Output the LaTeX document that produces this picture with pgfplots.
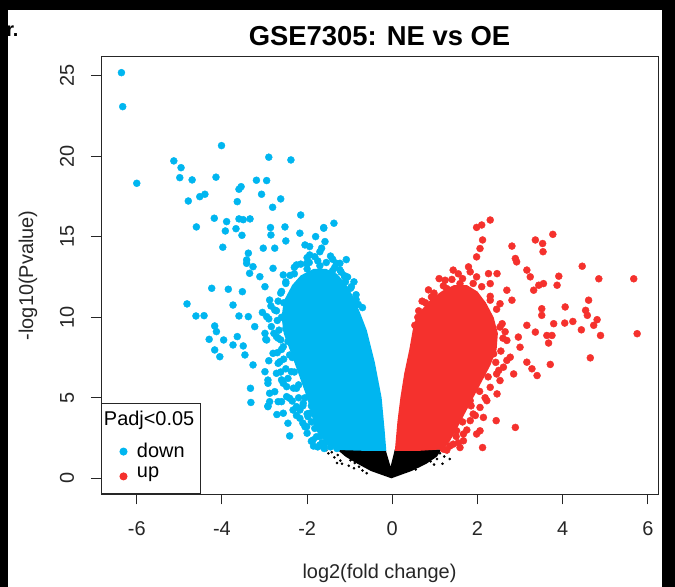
\documentclass[border=0pt]{standalone}
\usepackage{fontspec}
\setmainfont{Liberation Sans}
\usepackage{pgfplots}
\pgfplotsset{compat=1.18}
\definecolor{cblue}{RGB}{0,182,240}
\definecolor{cred}{RGB}{245,49,45}
\begin{document}
\begin{tikzpicture}
\fill[white] (0,0) rectangle (675bp,587bp);
\begin{axis}[
  at={(101bp,92.6bp)}, anchor=south west,
  scale only axis, width=557bp, height=438bp,
  xmin=-6.84, xmax=6.24, ymin=-1.0, ymax=26.2,
  axis on top,
  axis line style={black!85, line width=1bp},
  tick style={black!85, line width=1bp},
  tick align=outside, major tick length=10bp,
  xtick pos=left, ytick pos=left,
  xtick={-6,-4,-2,0,2,4,6}, xticklabels={-6,-4,-2,0,2,4,6},
  ytick={0,5,10,15,20,25}, yticklabels={0,5,10,15,20,25},
  ticklabel style={font=\fontsize{20}{22}\selectfont, text=black!85},
  xticklabel style={anchor=center, yshift=-24bp},
  yticklabel style={xshift=-24bp, rotate=90, anchor=center},
  title={GSE7305: NE vs OE},
  title style={at={(axis description cs:0.5,1.0331)}, anchor=center, font=\bfseries\fontsize{27.5}{30}\selectfont},
  xlabel={log2(fold change)},
  xlabel style={at={(axis description cs:0.5,-0.1795)}, anchor=center, font=\fontsize{20}{22}\selectfont, text=black!85},
  ylabel={-log10(Pvalue)},
  ylabel style={at={(axis description cs:-0.1311,0.5)}, anchor=center, font=\fontsize{20}{22}\selectfont, text=black!85},
  legend style={at={(axis description cs:0,0)}, anchor=south west, draw=black!85, line width=1bp,
    inner xsep=14bp, inner ysep=4.6bp, font=\fontsize{20}{22}\selectfont,
    cells={anchor=base west, inner sep=0bp, text height=15.4bp, text depth=6.6bp}, column sep=8bp, row sep=0bp},
  legend cell align=left,
  legend image code/.code={\draw[mark repeat=2,mark phase=2,#1] plot coordinates {(0bp,-1.5bp) (8bp,-1.5bp) (16bp,-1.5bp)};},
]
\addlegendimage{empty legend}
\addlegendentry[text depth=12.6bp]{\hspace*{-33bp}Padj<0.05\hspace*{-10bp}}
\addlegendimage{only marks, mark=*, mark size=3.5bp, cblue}
\addlegendentry{down}
\addlegendimage{only marks, mark=*, mark size=3.5bp, cred}
\addlegendentry[text depth=9.4bp]{up}

% not significant: dense core
\addplot[fill=black, draw=none, forget plot] coordinates {
(-1.3,1.8) (-1.1,1.35) (-0.85,0.95) (-0.5,0.45) (-0.02,0.0) (0.45,0.45) (0.8,0.9) (1.05,1.35) (1.15,1.8)
(0.06,1.8) (-0.04,0.72) (-0.16,1.8)} -- cycle;
\addplot[only marks, mark=*, mark size=1.1bp, black, forget plot] coordinates {
(-1.42,1.62) (-1.36,1.3) (-1.22,1.1) (-1.1,1.52) (-1.18,0.9) (-0.98,1.12) (-1.02,0.78) (-0.9,0.62)
(-0.78,0.72) (-0.7,0.48) (-0.6,0.32) (-1.3,0.95) (-1.5,1.55) (-0.88,0.95) (-1.28,1.45) (0.62,0.75)
(0.7,0.95) (0.82,1.2) (0.9,1.05) (0.95,1.5) (1.05,1.2) (1.12,1.55) (1.18,0.9) (1.22,1.35) (1.3,1.62)
(0.55,0.55) (0.98,0.85) (-1.55,1.75) (1.35,1.2)};

% down: dense core
\addplot[fill=cblue, draw=none, forget plot] coordinates {
(-0.14,1.7) (-0.18,3.0) (-0.25,5.0) (-0.41,7.2) (-0.6,9.2) (-0.76,10.3) (-0.92,11.3)
(-1.1,12.1) (-1.3,12.7) (-1.55,13.0) (-1.85,13.0) (-2.15,12.6) (-2.35,12.0) (-2.55,11.0) (-2.6,10.0)
(-2.55,9.0) (-2.3,7.2) (-2.0,5.0) (-1.8,3.0) (-1.5,2.0) (-1.2,1.75)
(-0.6,1.7)} -- cycle;
\addplot[only marks, mark=*, mark size=3.5bp, cblue, forget plot] coordinates {
(-6.36,25.19) (-6.33,23.08) (-6.00,18.32) (-4.01,20.66) (-5.13,19.71) (-4.96,19.29) (-4.99,18.67)
(-4.70,18.53) (-4.14,18.70) (-2.90,19.94) (-2.38,19.77) (-3.19,18.51) (-2.95,18.49) (-3.55,18.11)
(-3.60,17.95) (-4.79,17.22) (-4.52,17.49) (-4.40,17.64) (-3.64,17.18) (-3.07,17.64) (-2.62,17.35)
(-2.81,16.83) (-2.15,16.35) (-4.18,16.15) (-3.89,15.94) (-3.60,16.11) (-3.50,16.06) (-3.34,16.11)
(-4.60,15.61) (-3.92,15.36) (-3.67,15.50) (-3.53,15.09) (-3.98,14.35) (-2.86,15.57) (-2.85,15.11)
(-2.52,15.61) (-2.50,14.74) (-3.03,14.29) (-2.76,14.29) (-3.38,13.98) (-3.42,13.35) (-3.35,12.73)
(-1.94,13.87) (-2.05,14.49) (-1.80,15.01) (-1.61,15.57) (-1.37,15.84) (-1.58,14.70) (-1.40,13.60)
(-1.23,13.35) (-1.08,13.58) (-1.12,12.58) (-1.70,14.07) (-2.25,13.25) (-2.56,12.63) (-2.80,13.04)
(-4.24,11.80) (-3.85,11.74) (-3.52,11.59) (-3.74,10.76) (-4.42,10.10) (-3.60,10.08) (-3.38,10.04)
(-4.17,9.46) (-4.13,9.11) (-4.30,8.63) (-3.96,8.59) (-3.64,8.80) (-3.74,8.28) (-3.50,8.22)
(-4.17,7.97) (-4.05,7.55) (-3.46,7.66) (-3.23,9.42) (-2.97,8.63) (-3.27,7.04) (-3.33,5.59)
(-2.99,6.62) (-2.92,5.90) (-2.88,5.28) (-2.92,4.45) (-2.45,3.42) (-2.68,4.76) (-2.56,4.04)
(-2.17,4.24) (-2.01,3.20) (-1.78,2.58) (-3.42,13.56) (-3.27,13.14) (-3.11,12.52) (-2.99,11.90)
(-2.88,11.07) (-2.76,10.45) (-2.95,10.04) (-2.84,9.42) (-2.72,8.80) (-2.80,7.76) (-2.68,7.14)
(-2.60,6.11) (-2.48,5.69) (-2.41,4.97) (-2.25,4.45) (-1.94,4.04) (-2.01,13.35) (-1.82,13.76)
(-1.66,14.29) (-1.31,13.35) (-1.23,12.94) (-1.12,12.52) (-0.96,11.90) (-2.17,15.22) (-1.94,14.39)
(-1.61,15.53) (-3.32,4.71) (-2.41,2.63) (-2.71,3.96) (-2.10,3.43) (-2.92,4.49) (-4.82,10.83)
(-4.61,10.08) (-2.5,12.2) (-2.6,11.6) (-2.55,10.9) (-2.6,10.0) (-2.5,9.3) (-2.45,8.5) (-2.35,7.5)
(-2.3,6.6) (-2.2,5.8) (-2.05,5.0) (-1.9,4.5) (-1.75,3.8) (-1.6,3.1) (-1.5,2.5) (-1.6,2.1)
(-1.45,1.95) (-1.3,1.85) (-1.1,12.2) (-1.4,12.9) (-1.7,13.2) (-2.0,13.0) (-2.3,12.7) (-0.85,11.4)
(-0.7,10.6)
(-2.4,12.6) (-2.3,13.1) (-2.15,13.3) (-1.95,13.4) (-1.75,13.5) (-1.55,13.4) (-1.35,13.1) (-1.2,12.8)
(-1.05,12.5) (-2.5,12.1) (-2.62,11.5) (-2.0,13.7) (-1.45,13.8) (-2.68,11.0) (-2.72,10.4) (-2.7,9.8)
(-2.66,9.2) (-2.62,8.6) (-2.85,10.7) (-2.9,9.9) (-2.78,9.0) (-3.05,10.3) (-2.6,8.0) (-2.55,7.4)
(-2.5,6.8) (-2.45,6.2) (-2.7,7.8) (-2.62,6.6) (-2.9,7.3) (-2.32,5.6) (-2.2,5.0) (-2.1,4.5) (-2.0,4.0)
(-2.35,4.8) (-2.25,3.9) (-1.9,3.5) (-1.82,3.1) (-1.7,2.6) (-1.65,2.2) (-1.75,1.95) (-1.9,2.3)
(-1.6,1.85) (-2.0,2.8) (-1.85,2.0) (-0.98,11.8) (-0.85,11.1) (-0.9,12.2) (-0.8,10.8)
(-2.92,6.1) (-2.76,5.38) (-2.88,4.76) (-2.6,4.76) (-2.72,6.52) (-2.56,5.9) (-2.48,5.07) (-2.33,4.24)
(-2.17,3.73) (-2.05,3.2) (-1.86,2.38) (-1.7,2.07) (-2.64,7.24) (-2.56,8.17) (-2.68,8.7) (-2.95,8.59)
(-2.99,9.0) (-2.37,6.62) (-2.25,5.59) (-2.09,4.66) (-1.98,3.83) (-2.41,7.66)};

% up: dense core
\addplot[fill=cred, draw=none, forget plot] coordinates {
(0.06,1.7) (0.12,3.5) (0.19,5.0) (0.28,6.5) (0.4,8.0) (0.48,9.2) (0.55,9.9) (0.7,10.5) (0.9,11.1)
(1.15,11.6) (1.45,12.0) (1.75,12.0) (2.0,11.6) (2.2,10.9) (2.38,10.0) (2.48,9.0) (2.45,8.0) (2.3,7.0)
(2.1,6.0) (1.9,5.0) (1.7,4.0) (1.5,3.0) (1.35,2.3) (1.2,1.8) (0.6,1.7)} -- cycle;
\addplot[only marks, mark=*, mark size=3.5bp, cred, forget plot] coordinates {
(2.30,16.04) (2.10,15.73) (1.98,15.58) (2.12,14.80) (2.06,14.27) (1.98,13.75) (3.77,15.15)
(3.36,14.80) (3.53,14.58) (3.54,14.07) (2.81,14.42) (2.89,13.65) (2.92,13.44) (4.46,13.17)
(4.85,12.39) (5.67,12.39) (3.91,12.55) (3.87,11.99) (3.16,12.93) (3.24,12.51) (3.44,11.99)
(3.32,11.68) (3.55,12.09) (4.61,11.06) (4.54,10.43) (4.06,10.64) (4.58,10.12) (4.81,9.85)
(4.73,9.50) (4.89,8.87) (4.44,9.22) (4.24,9.74) (4.05,9.64) (3.79,9.60) (5.75,8.98) (4.65,7.48)
(3.71,7.07) (3.67,8.40) (3.75,8.87) (3.63,8.87) (3.51,10.53) (3.51,10.12) (3.16,9.50) (3.36,9.08)
(3.16,7.21) (3.28,6.80) (3.40,6.38) (2.89,3.16) (2.44,3.58) (2.12,1.91) (2.46,5.24) (2.53,6.07)
(2.85,6.48) (3.00,8.14) (2.96,8.77) (2.81,11.06) (2.69,11.68) (2.46,12.71) (2.26,12.71)
(1.43,12.93) (1.79,13.13) (1.83,12.82) (0.92,11.26) (0.65,9.81) (0.53,9.50) (1.98,12.51)
(2.30,12.09) (1.59,12.09) (1.24,12.30) (1.28,11.78) (2.53,9.39) (2.69,8.56) (2.77,7.52)
(2.61,6.90) (2.30,5.65) (2.06,4.40) (1.83,3.58) (1.67,2.75) (1.43,2.12) (1.20,1.81) (1.98,2.75)
(1.83,4.82) (2.06,6.48) (2.38,7.73) (2.30,11.06) (2.53,10.84)
(0.62,10.4) (0.78,10.9) (0.98,11.5) (1.2,11.95) (1.4,12.35) (1.65,12.4) (1.9,12.1) (2.1,11.9)
(1.1,12.4) (0.85,11.7) (1.55,12.7) (0.7,11.0) (0.6,10.0) (2.3,11.3) (2.45,10.5) (2.58,9.6)
(2.6,8.7) (2.55,7.9) (2.43,7.2) (2.25,6.3) (2.05,5.4) (1.85,4.5) (1.65,3.5) (1.5,2.6) (1.35,2.0)
(1.28,1.75) (2.65,9.1) (2.5,6.7) (2.18,5.0) (1.95,3.9) (1.75,3.0) (1.55,2.2)
(1.67,2.33) (1.51,2.95) (1.90,3.99) (2.22,4.82) (2.14,3.78) (2.45,6.48) (2.69,7.32) (2.06,2.95)
(1.75,4.61) (1.59,1.91)};
\end{axis}
\node[anchor=base east, font=\bfseries\fontsize{20}{22}\selectfont] at (22bp,550bp) {r.};
\fill[black] (0,577bp) rectangle (675bp,587bp);
\fill[black] (0,0) rectangle (8bp,587bp);
\fill[black] (662bp,0) rectangle (675bp,587bp);
\path[use as bounding box] (0,0) rectangle (675bp,587bp);
\end{tikzpicture}
\end{document}
